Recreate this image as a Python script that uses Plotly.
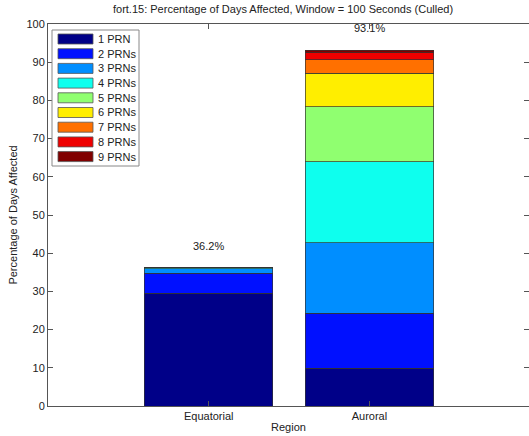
import plotly.graph_objects as go

# Regions on the x axis
regions = ["Equatorial", "Auroral"]

# Percentage of days affected, split by number of PRNs affected
series_names = ["1 PRN", "2 PRNs", "3 PRNs", "4 PRNs", "5 PRNs",
                "6 PRNs", "7 PRNs", "8 PRNs", "9 PRNs"]
equatorial = [29.5, 5.2, 1.2, 0.3, 0.0, 0.0, 0.0, 0.0, 0.0]
auroral = [9.9, 14.4, 18.5, 21.1, 14.5, 8.7, 3.5, 1.9, 0.6]
totals = [36.2, 93.1]
total_labels = ["36.2%", "93.1%"]

colors = ["#000088", "#0010FF", "#008EFF", "#0EFFEE", "#90FF70",
          "#FFEE00", "#FF7000", "#EE0000", "#800000"]

FONT = "Liberation Sans, Arial, sans-serif"
W, H = 529, 436
ML, MR, MT, MB = 48, 0, 24, 30
PW, PH = W - ML - MR, H - MT - MB


def px(x):
    return (x - ML) / PW


def py(y):
    return (H - MB - y) / PH


fig = go.Figure()

for i, name in enumerate(series_names):
    fig.add_trace(go.Bar(
        x=regions,
        y=[equatorial[i], auroral[i]],
        name=name,
        marker=dict(color=colors[i], line=dict(color="#333333", width=0.7)),
        showlegend=False,
    ))

for reg, tot, lab in zip(regions, totals, total_labels):
    fig.add_annotation(x=reg, y=tot, text=lab, showarrow=False,
                       yanchor="bottom", yshift=14,
                       font=dict(family=FONT, size=11, color="#222222"))

# Boxed legend in the upper-left corner of the axes
shapes = [dict(type="rect", xref="paper", yref="paper",
               x0=px(52), x1=px(139), y0=py(166), y1=py(30),
               fillcolor="white", line=dict(color="#888888", width=1))]
for i, name in enumerate(series_names):
    top = 34 + i * 14.7
    shapes.append(dict(type="rect", xref="paper", yref="paper",
                       x0=px(58), x1=px(93), y0=py(top + 10), y1=py(top),
                       fillcolor=colors[i], line=dict(color="#555555", width=0.8)))
    fig.add_annotation(xref="paper", yref="paper", x=px(96), y=py(top + 5),
                       text=name, showarrow=False, xanchor="left", yanchor="middle",
                       font=dict(family=FONT, size=11, color="#222222"))

fig.update_layout(
    width=W, height=H,
    barmode="stack", bargap=0.2,
    plot_bgcolor="white", paper_bgcolor="white",
    margin=dict(l=ML, r=MR, t=MT, b=MB),
    font=dict(family=FONT, size=11, color="#222222"),
    title=dict(text="fort.15: Percentage of Days Affected, Window = 100 Seconds (Culled)",
               x=0.535, xanchor="center", y=0.978, yanchor="middle",
               font=dict(family=FONT, size=11, color="#222222")),
    shapes=shapes,
    showlegend=False,
)

fig.update_xaxes(
    range=[-1, 1.993], showline=True, linecolor="#555555", linewidth=1,
    mirror="ticks", ticks="inside", ticklen=5, tickcolor="#555555",
    showgrid=False, zeroline=False,
    title=dict(text="Region", standoff=2, font=dict(family=FONT, size=11)),
)
fig.update_yaxes(
    range=[0, 100], dtick=10, showline=True, linecolor="#555555", linewidth=1,
    mirror="ticks", ticks="inside", ticklen=5, tickcolor="#555555",
    showgrid=False, zeroline=False,
    title=dict(text="Percentage of Days Affected", standoff=6,
               font=dict(family=FONT, size=11)),
)

fig.write_html("out.html")
